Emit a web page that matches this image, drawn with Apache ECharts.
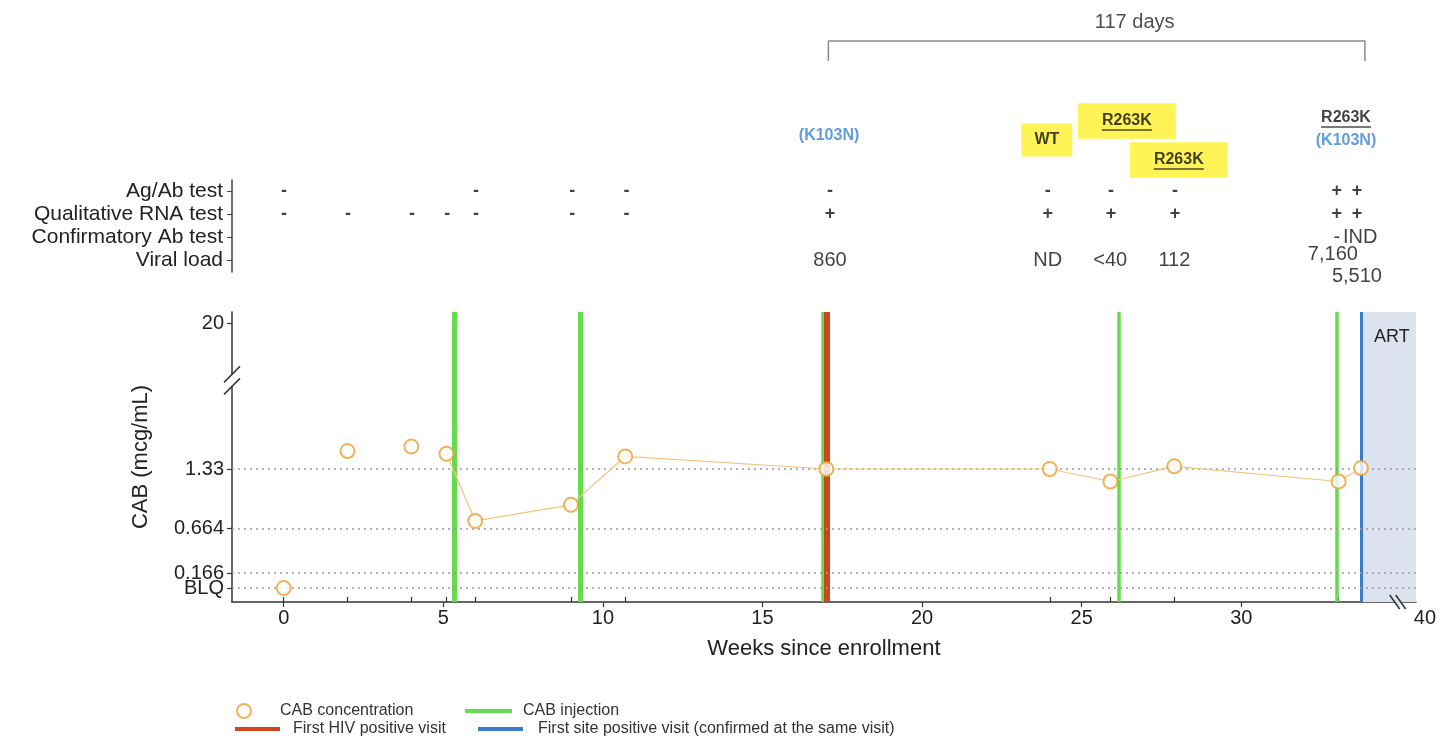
<!DOCTYPE html>
<html><head><meta charset="utf-8">
<script src="https://cdn.jsdelivr.net/npm/echarts@6/dist/echarts.min.js"></script>
<style>html,body{margin:0;padding:0;background:#fff}#c{width:1439px;height:745px}</style>
</head><body><div id="c"></div>
<script>
// ================= DATA =================
// CAB concentration by visit (weeks since enrollment)
const visitWeeks = [0, 2, 4, 5.1, 6, 9, 10.7, 17.0, 24, 25.9, 27.9, 33.05, 33.75];
const cabConc    = ['BLQ', 1.53, 1.58, 1.50, 0.75, 0.93, 1.47, 1.33, 1.33, 1.19, 1.36, 1.19, 1.34];
const trendFromWeek = 5;               // concentration line drawn from this visit on
const injectionWeeks = [5.34, 9.29, 16.88, 26.17, 33.0];
const firstHivPositiveWeek = 17.0;
const firstSitePositiveWeek = 33.75;   // ART starts here
const spanLabel = '117 days';

// axis ticks
const xTickValues = [0, 5, 10, 15, 20, 25, 30];
const xEndLabel = '40';
const yTickValues = [0.166, 0.664, 1.33, 20];
const yTickLabels = ['0.166', '0.664', '1.33', '20'];
const yBlqLabel = 'BLQ';
const yGuideValues = ['BLQ', 0.166, 0.664, 1.33];

// test table
const tableRows = ['Ag/Ab test', 'Qualitative RNA test', 'Confirmatory Ab test', 'Viral load'];
const agAbTest = [[0,'-'],[6,'-'],[9,'-'],[10.7,'-'],[17.05,'-'],[23.85,'-'],[25.82,'-'],[27.82,'-'],[32.87,'+'],[33.5,'+']];
const rnaTest = [[0,'-'],[2,'-'],[4,'-'],[5.1,'-'],[6,'-'],[9,'-'],[10.7,'-'],[17.05,'+'],[23.85,'+'],[25.82,'+'],[27.82,'+'],[32.87,'+'],[33.5,'+']];
const confirmAbTest = [[32.87,'-'],[33.6,'IND']];
const viralLoad = [[17.05,'860'],[23.85,'ND'],[25.8,'<40'],[27.8,'112'],[32.75,'7,160'],[33.5,'5,510']];

// genotype notes
const noteWeeks = [17.02, 23.82, 26.32, 27.94, 33.16, 33.16];
const noteTexts = ['(K103N)', 'WT', 'R263K', 'R263K', 'R263K', '(K103N)'];

// ================= LAYOUT / STYLE =================
const FONT = 'Liberation Sans, Arial, sans-serif';
const xMin = -1.62, xMax = 35.47;
const yMin = -0.156, yMax = 3.084;
const BRK = 2.27;  // y axis break
function toAxis(v){ if (v === 'BLQ') return 0; if (v <= BRK) return v; return BRK + (v - BRK) * (0.69 / 17.73); }
const GREEN = '#63DD4B', RED = '#D0441C', BLUE = '#3B7BCB', ORANGE = '#EBA032', YELLOW = '#FFF02A', NOTEBLUE = '#3A85D4';
const gridL = 232, gridR = 19;
const noteLevels = [136, 140, 121, 160, 118, 141];
const noteStyles = ['minor', 'box', 'boxU', 'boxU', 'under', 'minor'];

const yTickAxisVals = yTickValues.map(toAxis);
function yLabel(v){ for (let i = 0; i < yTickAxisVals.length; i++) if (Math.abs(v - yTickAxisVals[i]) < 1e-6) return yTickLabels[i]; return ''; }

const HIDDEN = { color: 'rgba(0,0,0,0)', borderWidth: 0 };

function tableSeries(row, items, style){
  const big = style !== 'sign';
  return {
    type: 'scatter', xAxisIndex: 1, yAxisIndex: 1, symbol: 'circle', symbolSize: 2,
    itemStyle: HIDDEN, silent: true, z: 20,
    data: items.map(([w, t], i) => {
      const d = { value: [w, row, t] };
      if (style === 'stack') {
        const prev = items[i - 1], next = items[i + 1];
        if (next && next[0] - w < 1) d.label = { offset: [0, -6] };
        else if (prev && w - prev[0] < 1) d.label = { offset: [0, 16] };
      }
      return d;
    }),
    label: {
      show: true, position: 'inside', formatter: p => p.value[2],
      color: '#111', fontFamily: FONT,
      fontSize: big ? 20 : 18, fontWeight: big ? 'normal' : 'bold'
    }
  };
}

function noteItem(i){
  const st = noteStyles[i], txt = noteTexts[i];
  const d = { value: [noteWeeks[i], noteLevels[i]] };
  const rich = { t: { color: '#111', fontWeight: 'bold', fontSize: 16, fontFamily: FONT, lineHeight: 18 },
                 u: { width: 50, height: 1.5, backgroundColor: '#222' } };
  if (st === 'minor') {
    d.label = { formatter: txt, color: NOTEBLUE, fontWeight: 'bold', fontSize: 16 };
  } else if (st === 'box') {
    d.label = { formatter: txt, color: '#111', fontWeight: 'bold', fontSize: 16, backgroundColor: YELLOW, padding: [9, 13, 8, 13] };
  } else if (st === 'boxU') {
    d.label = { formatter: '{t|' + txt + '}\n{u|}', backgroundColor: YELLOW, padding: [8, 24, 8, 24], rich };
  } else {
    d.label = { formatter: '{t|' + txt + '}\n{u|}', rich };
  }
  return d;
}

const chart = echarts.init(document.getElementById('c'), null, { renderer: 'canvas' });

const option = {
  backgroundColor: '#fff',
  animation: false,
  textStyle: { fontFamily: FONT },
  grid: [
    { left: gridL, right: gridR, top: 312, bottom: 143 },
    { left: gridL, right: gridR, top: 180, height: 92 },
    { left: gridL, right: gridR, top: 0, height: 180 }
  ],
  xAxis: [
    { gridIndex: 0, type: 'value', min: xMin, max: xMax, position: 'bottom',
      name: 'Weeks since enrollment', nameLocation: 'middle', nameGap: 36,
      nameTextStyle: { fontSize: 22, color: '#222', fontFamily: FONT },
      axisLine: { show: true, onZero: false, lineStyle: { color: '#333', width: 1.5 } },
      axisTick: { show: true, customValues: xTickValues, length: 5, lineStyle: { color: '#333', width: 1.2 } },
      axisLabel: { show: true, customValues: xTickValues.concat([xMax]), fontSize: 20, color: '#222', margin: 6,
        showMaxLabel: true, showMinLabel: true,
        formatter: v => Math.abs(v - xMax) < 1e-6 ? '{e|' + xEndLabel + '}' : String(v),
        rich: { e: { fontSize: 20, color: '#222', padding: [0, 0, 0, 18], fontFamily: FONT } } },
      splitLine: { show: false } },
    { gridIndex: 1, type: 'value', min: xMin, max: xMax, show: false },
    { gridIndex: 2, type: 'value', min: xMin, max: xMax, show: false },
    { gridIndex: 0, type: 'value', min: xMin, max: xMax, position: 'bottom',
      axisLine: { show: false, onZero: false }, axisLabel: { show: false }, splitLine: { show: false },
      axisTick: { show: true, inside: true, customValues: visitWeeks, length: 5, lineStyle: { color: '#333', width: 1.2 } } }
  ],
  yAxis: [
    { gridIndex: 0, type: 'value', min: yMin, max: yMax,
      name: 'CAB (mcg/mL)', nameLocation: 'middle', nameGap: 80, nameRotate: 90,
      nameTextStyle: { fontSize: 22, color: '#222', fontFamily: FONT },
      axisLine: { show: true, onZero: false, lineStyle: { color: '#333', width: 1.5 } },
      axisTick: { show: true, customValues: yTickAxisVals, length: 5, lineStyle: { color: '#333', width: 1.2 } },
      axisLabel: { show: true, customValues: yTickAxisVals, fontSize: 20, color: '#222', margin: 8, formatter: yLabel,
        showMinLabel: true, showMaxLabel: true },
      splitLine: { show: false } },
    { gridIndex: 1, type: 'category', data: tableRows, inverse: true,
      axisLine: { show: true, onZero: false, lineStyle: { color: '#444', width: 1.5 } },
      axisTick: { show: true, alignWithLabel: true, interval: 0, length: 5, lineStyle: { color: '#444' } },
      axisLabel: { fontSize: 21, color: '#222', margin: 9, interval: 0 },
      splitLine: { show: false } },
    { gridIndex: 2, type: 'value', min: 0, max: 180, inverse: true, show: false },
    // separate axis carrying only the BLQ tick so it is not hidden by label-overlap rules
    { gridIndex: 0, type: 'value', min: yMin, max: yMax, position: 'left',
      axisLine: { show: false, onZero: false }, splitLine: { show: false },
      axisTick: { show: true, customValues: [toAxis('BLQ')], length: 5, lineStyle: { color: '#333', width: 1.2 } },
      axisLabel: { show: true, customValues: [toAxis('BLQ')], fontSize: 20, color: '#222', margin: 8,
        showMinLabel: true, showMaxLabel: true, formatter: () => yBlqLabel } }
  ],
  legend: [
    { data: ['CAB concentration'], left: 231, top: 698, itemWidth: 14, itemHeight: 14, selectedMode: false,
      itemStyle: { borderWidth: 2 }, textStyle: { fontSize: 16, color: '#333', padding: [0, 0, 0, 24] } },
    { data: ['CAB injection'], left: 460, top: 698, icon: 'rect', itemWidth: 47, itemHeight: 4, selectedMode: false,
      textStyle: { fontSize: 16, color: '#333', padding: [0, 0, 0, 6] } },
    { data: ['First HIV positive visit'], left: 230, top: 716, icon: 'rect', itemWidth: 45, itemHeight: 4, selectedMode: false,
      textStyle: { fontSize: 16, color: '#333', padding: [0, 0, 0, 8] } },
    { data: ['First site positive visit (confirmed at the same visit)'], left: 473, top: 716, icon: 'rect', itemWidth: 45, itemHeight: 4, selectedMode: false,
      textStyle: { fontSize: 16, color: '#333', padding: [0, 0, 0, 10] } }
  ],
  series: [
    // ART area + first site positive visit
    { name: 'First site positive visit (confirmed at the same visit)', type: 'line', xAxisIndex: 0, yAxisIndex: 0,
      data: [], color: BLUE, symbol: 'none', z: 2,
      markArea: { silent: true, itemStyle: { color: '#DCE3EE' },
        label: { show: true, position: 'insideTopLeft', formatter: 'ART', color: '#222', fontSize: 18, offset: [8, 11], fontFamily: FONT },
        data: [[{ xAxis: firstSitePositiveWeek }, { xAxis: xMax }]] },
      markLine: { silent: true, symbol: 'none', label: { show: false }, lineStyle: { color: BLUE, width: 3, type: 'solid' },
        data: [{ xAxis: firstSitePositiveWeek }] } },
    { name: 'CAB injection', type: 'line', xAxisIndex: 0, yAxisIndex: 0, data: [], color: GREEN, symbol: 'none', z: 3,
      markLine: { silent: true, symbol: 'none', label: { show: false }, lineStyle: { color: GREEN, width: 4, type: 'solid' },
        data: injectionWeeks.map(w => ({ xAxis: w, lineStyle: { width: w < 12 ? 5 : 3.5 } })) } },
    { name: 'First HIV positive visit', type: 'line', xAxisIndex: 0, yAxisIndex: 0, data: [], color: RED, symbol: 'none', z: 4,
      markLine: { silent: true, symbol: 'none', label: { show: false }, lineStyle: { color: RED, width: 6, type: 'solid' },
        data: [{ xAxis: firstHivPositiveWeek }] } },
    // concentration trend line + dotted guide lines
    { name: 'trend', type: 'line', xAxisIndex: 0, yAxisIndex: 0, symbol: 'none', silent: true, z: 5,
      data: visitWeeks.map((w, i) => [w, toAxis(cabConc[i])]).filter(d => d[0] >= trendFromWeek),
      lineStyle: { color: '#F3C57F', width: 1.2 },
      markLine: { silent: true, symbol: 'none', label: { show: false },
        lineStyle: { color: '#9a9a9a', width: 1.6, type: [2, 4] },
        data: yGuideValues.map(v => ({ yAxis: toAxis(v) })) } },
    { name: 'CAB concentration', type: 'scatter', xAxisIndex: 0, yAxisIndex: 0, z: 10,
      symbol: 'emptyCircle', symbolSize: 14, itemStyle: { color: ORANGE, borderWidth: 2 },
      data: visitWeeks.map((w, i) => [w, toAxis(cabConc[i])]) },
    // table
    tableSeries(tableRows[0], agAbTest, 'sign'),
    tableSeries(tableRows[1], rnaTest, 'sign'),
    tableSeries(tableRows[2], confirmAbTest, 'text'),
    tableSeries(tableRows[3], viralLoad, 'stack'),
    // bracket + span label
    { type: 'line', xAxisIndex: 2, yAxisIndex: 2, symbol: 'none', silent: true,
      lineStyle: { color: '#8a8a8a', width: 1.5 },
      data: [[firstHivPositiveWeek, 61], [firstHivPositiveWeek, 41], [firstSitePositiveWeek, 41], [firstSitePositiveWeek, 61]] },
    { type: 'scatter', xAxisIndex: 2, yAxisIndex: 2, symbolSize: 2, itemStyle: HIDDEN, silent: true, z: 20,
      data: [[(firstHivPositiveWeek + firstSitePositiveWeek) / 2, 22]],
      label: { show: true, position: 'inside', formatter: spanLabel, fontSize: 20, color: '#222', offset: [38, 0] } },
    // genotype notes
    { type: 'scatter', xAxisIndex: 2, yAxisIndex: 2, symbolSize: 2, itemStyle: HIDDEN, silent: true, z: 20,
      label: { show: true, position: 'inside', fontFamily: FONT },
      data: noteTexts.map((t, i) => noteItem(i)) }
  ]
};
chart.setOption(option);

// axis break marks
const pY = chart.convertToPixel({ gridIndex: 0 }, [xMin, 2.32]);
const pX = chart.convertToPixel({ gridIndex: 0 }, [34.9, yMin]);
const ax = pY[0], yb = pY[1];
const xb = pX[0], ay = pX[1];
const brkStyle = { stroke: '#333', lineWidth: 1.5 };
chart.setOption({
  graphic: [
    { type: 'rect', shape: { x: ax - 4, y: yb - 6, width: 8, height: 12 }, style: { fill: '#fff' }, z: 100 },
    { type: 'line', shape: { x1: ax - 8, y1: yb - 6 + 8, x2: ax + 8, y2: yb - 6 - 8 }, style: brkStyle, z: 101 },
    { type: 'line', shape: { x1: ax - 8, y1: yb + 6 + 8, x2: ax + 8, y2: yb + 6 - 8 }, style: brkStyle, z: 101 },
    { type: 'rect', shape: { x: xb - 3, y: ay - 3, width: 6, height: 6 }, style: { fill: '#DCE3EE' }, z: 100 },
    { type: 'line', shape: { x1: xb - 3 - 5, y1: ay - 7, x2: xb - 3 + 5, y2: ay + 7 }, style: brkStyle, z: 101 },
    { type: 'line', shape: { x1: xb + 3 - 5, y1: ay - 7, x2: xb + 3 + 5, y2: ay + 7 }, style: brkStyle, z: 101 }
  ]
});
</script>
</body></html>
